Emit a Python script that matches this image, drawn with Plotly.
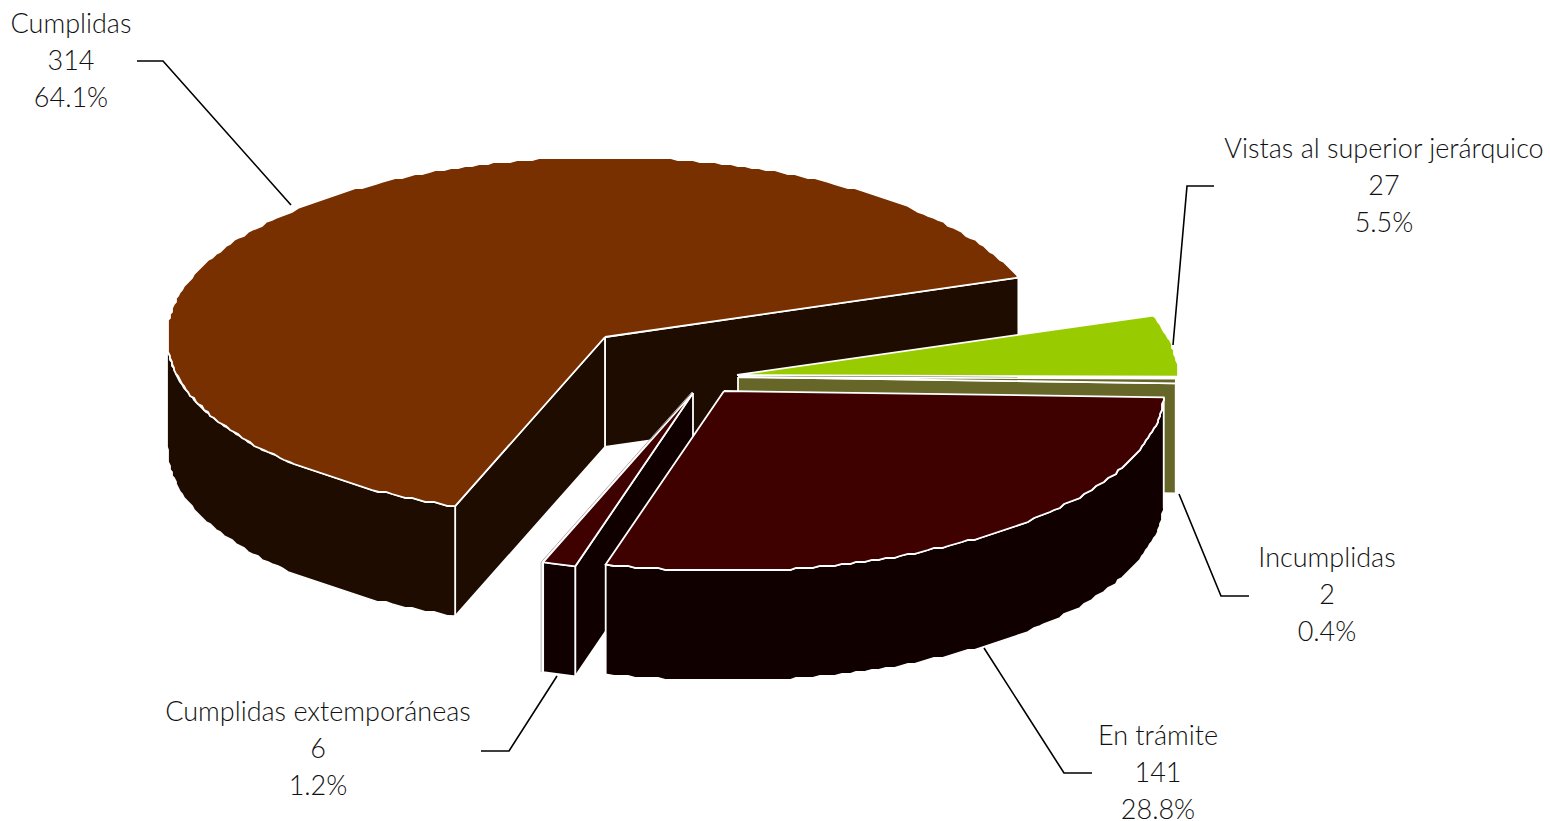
import math
import plotly.graph_objects as go

# Data (in the order the slices run round the pie)
categories = ["Cumplidas", "Cumplidas extemporáneas", "En trámite", "Incumplidas", "Vistas al superior jerárquico"]
values = [314, 6, 141, 2, 27]
total = sum(values)

# Layout of the 3D pie
START_DEG = 19.3
RY, DEPTH = 180, 110
GRID = 2  # the reference's curved edges are slightly stepped
radius_x = {"Cumplidas": 438, "Vistas al superior jerárquico": 441, "Incumplidas": 438,
            "En trámite": 440, "Cumplidas extemporáneas": 438}
apex = {"Cumplidas": (605, 337), "Vistas al superior jerárquico": (737, 375),
        "Incumplidas": (738, 377), "En trámite": (724, 391), "Cumplidas extemporáneas": (693, 393)}
top_col = {"Cumplidas": "#783000", "Vistas al superior jerárquico": "#99CC00",
           "Incumplidas": "#666629", "En trámite": "#3F0000", "Cumplidas extemporáneas": "#3F0000"}
wall_col = {"Cumplidas": "#1E0C00", "Vistas al superior jerárquico": "#99CC00",
            "Incumplidas": "#666629", "En trámite": "#100000", "Cumplidas extemporáneas": "#100000"}
label_pos = {"Cumplidas": (71, 26), "Vistas al superior jerárquico": (1384, 151),
             "Incumplidas": (1327, 560), "En trámite": (1158, 738), "Cumplidas extemporáneas": (318, 714)}
leaders = {"Cumplidas": ([137, 163, 291], [61, 61, 205]),
           "Vistas al superior jerárquico": ([1214, 1187, 1173], [186, 186, 345]),
           "Incumplidas": ([1249, 1221, 1179], [596, 596, 494]),
           "En trámite": ([1092, 1064, 984], [773, 773, 648]),
           "Cumplidas extemporáneas": ([481, 509, 557], [751, 751, 676])}
LINE_STEP = 37
FONT = "Lato"
FONT_SIZE = 27

# slice angle spans, counter-clockwise from START_DEG
spans = {}
a = START_DEG
for c, v in zip(categories, values):
    b = a + v / total * 360
    spans[c] = (a, b)
    a = b


def pt(c, deg, dz=0):
    x0, y0 = apex[c]
    return x0 + radius_x[c] * math.cos(math.radians(deg)), y0 - RY * math.sin(math.radians(deg)) + dz


def arc(c, a0, a1, dz=0):
    n = max(2, int(abs(a1 - a0) / 1.0) + 1)
    pts = [pt(c, a0 + (a1 - a0) * i / (n - 1), dz) for i in range(n)]
    if n > 8:  # stepped edge, as in the reference; end points stay exact
        pts = pts[:1] + [(round(x / GRID) * GRID, round(y / GRID) * GRID) for x, y in pts[1:-1]] + pts[-1:]
    return [p[0] for p in pts], [p[1] for p in pts]


fig = go.Figure()


def poly(xs, ys, fill, line="white", w=1.8):
    fig.add_trace(go.Scatter(x=xs + xs[:1], y=ys + ys[:1], mode="lines", fill="toself", fillcolor=fill,
                             line=dict(color=line, width=w), hoverinfo="skip", showlegend=False))


def side_wall(c, deg):
    x0, y0 = apex[c]
    p = pt(c, deg)
    poly([x0, p[0], p[0], x0], [y0, p[1], p[1] + DEPTH, y0 + DEPTH], wall_col[c])


def outer_wall(c):
    a0, a1 = spans[c]
    # only the front half (180..360 deg) faces the viewer
    lo, hi = max(a0, 180), min(a1, 360)
    if lo >= hi:
        return
    xt, yt = arc(c, lo, hi)
    xb, yb = arc(c, lo, hi, DEPTH)
    poly(xt + xb[::-1], yt + yb[::-1], wall_col[c])


def top(c):
    a0, a1 = spans[c]
    xs, ys = arc(c, a0, a1)
    x0, y0 = apex[c]
    poly([x0] + xs, [y0] + ys, top_col[c])


# painter's order, back to front
c = "Cumplidas"
side_wall(c, spans[c][0]); side_wall(c, spans[c][1]); outer_wall(c); top(c)
top("Vistas al superior jerárquico")
c = "Incumplidas"
side_wall(c, spans[c][0]); top(c)
c = "Cumplidas extemporáneas"
x0, y0 = apex[c]
p = pt(c, spans[c][0])
fig.add_trace(go.Scatter(x=[p[0] - 2, p[0] - 2, None, p[0] - 2, x0 - 1], y=[p[1] + DEPTH, p[1], None, p[1], y0 - 1],
                         mode="lines", line=dict(color="#B5ABAB", width=1), hoverinfo="skip", showlegend=False))
side_wall(c, spans[c][1]); outer_wall(c); top(c)
c = "En trámite"
outer_wall(c); top(c)

# leader lines and labels
for c, v in zip(categories, values):
    lx, ly = leaders[c]
    fig.add_trace(go.Scatter(x=lx, y=ly, mode="lines", line=dict(color="black", width=1.6),
                             hoverinfo="skip", showlegend=False))
    tx, ty = label_pos[c]
    lines = [c, str(v), f"{v / total * 100:.1f}%"]
    fig.add_trace(go.Scatter(x=[tx] * 3, y=[ty + i * LINE_STEP for i in range(3)], mode="text", text=lines,
                             textposition="middle center", cliponaxis=True,
                             textfont=dict(family=FONT, size=FONT_SIZE, color="#111111", weight=300),
                             hoverinfo="skip", showlegend=False))

fig.update_layout(width=1550, height=821, margin=dict(l=0, r=5, t=0, b=0), paper_bgcolor="white",
                  plot_bgcolor="white", showlegend=False,
                  xaxis=dict(range=[0, 1545], visible=False, fixedrange=True),
                  yaxis=dict(range=[821, 0], visible=False, fixedrange=True))
fig.write_html("out.html", config={"displayModeBar": False}, post_script="document.body.style.margin='0';")
